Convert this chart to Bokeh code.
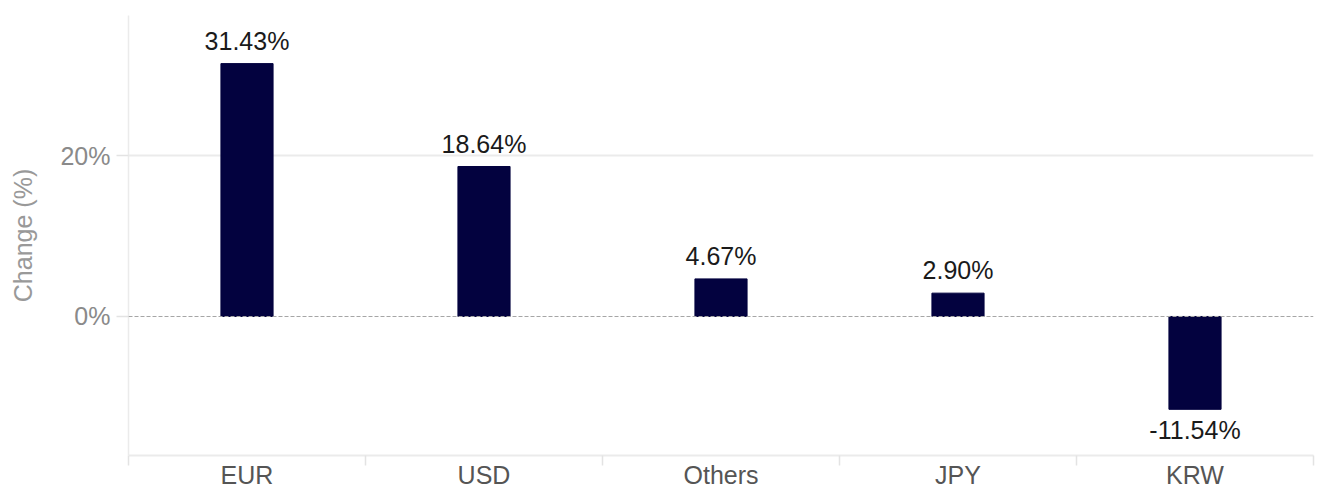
from bokeh.plotting import figure
from bokeh.models import ColumnDataSource, Range1d, FixedTicker, Span
from bokeh.embed import file_html
from bokeh.resources import INLINE
from bokeh.core.properties import value

# ---- data ----
categories = ["EUR", "USD", "Others", "JPY", "KRW"]
changes = [31.43, 18.64, 4.67, 2.90, -11.54]
labels = ["31.43%", "18.64%", "4.67%", "2.90%", "-11.54%"]
y_ticks = [0, 20]
y_tick_labels = {0: "0%", 20: "20%"}

BAR = "#03023f"
FONT = "Liberation Sans"

xpos = [i + 0.5 for i in range(len(categories))]
pos_idx = [i for i, v in enumerate(changes) if v >= 0]
neg_idx = [i for i, v in enumerate(changes) if v < 0]

src = ColumnDataSource(dict(x=xpos, top=changes, label=labels, cat=categories))
src_pos = ColumnDataSource(dict(x=[xpos[i] for i in pos_idx], y=[changes[i] for i in pos_idx],
                                label=[labels[i] for i in pos_idx]))
src_neg = ColumnDataSource(dict(x=[xpos[i] for i in neg_idx], y=[changes[i] for i in neg_idx],
                                label=[labels[i] for i in neg_idx]))

p = figure(width=1319, height=491, output_backend="svg", toolbar_location=None,
           x_range=Range1d(0, len(categories)), y_range=Range1d(-17.28, 37.41),
           min_border_left=128, min_border_right=6, min_border_top=15, min_border_bottom=33)
p.outline_line_color = None
p.background_fill_color = "white"
p.border_fill_color = "white"

p.vbar(x="x", top="top", bottom=0, width=0.22, source=src,
       fill_color=BAR, line_color=BAR)

# zero reference line
p.add_layout(Span(location=0, dimension="width", line_color="#a6a6a6",
                  line_width=1.2, line_dash="4 2"))

p.text(x="x", y="y", text="label", source=src_pos, text_align="center",
       text_baseline="alphabetic", y_offset=-23, text_font=value(FONT),
       text_font_size="25px", text_color="#1a1a1a")
p.text(x="x", y="y", text="label", source=src_neg, text_align="center",
       text_baseline="alphabetic", y_offset=21, text_font=value(FONT),
       text_font_size="25px", text_color="#1a1a1a")

# x axis
xa = p.xaxis[0]
xa.ticker = FixedTicker(ticks=xpos, minor_ticks=list(range(len(categories) + 1)))
xa.major_label_overrides = {x: c for x, c in zip(xpos, categories)}
xa.major_tick_out = 0
xa.major_tick_in = 0
xa.minor_tick_out = 10
xa.minor_tick_in = 0
xa.minor_tick_line_color = "#e3e3e3"
xa.minor_tick_line_width = 1.5
xa.axis_line_color = "#ebebeb"
xa.axis_line_width = 2
xa.major_label_standoff = -5
xa.major_label_text_font = FONT
xa.major_label_text_font_size = "25px"
xa.major_label_text_color = "#555555"

# y axis
ya = p.yaxis[0]
ya.ticker = FixedTicker(ticks=y_ticks, minor_ticks=[])
ya.major_label_overrides = y_tick_labels
ya.major_tick_out = 12
ya.major_tick_in = 0
ya.major_tick_line_color = "#e3e3e3"
ya.major_tick_line_width = 1.5
ya.minor_tick_out = 0
ya.minor_tick_in = 0
ya.axis_line_color = "#ebebeb"
ya.axis_line_width = 1.5
ya.major_label_standoff = 6
ya.major_label_text_font = FONT
ya.major_label_text_font_size = "25px"
ya.major_label_text_color = "#8a8a8a"
ya.axis_label = "Change (%)"
ya.axis_label_standoff = 20
ya.axis_label_text_font = FONT
ya.axis_label_text_font_size = "25px"
ya.axis_label_text_font_style = "normal"
ya.axis_label_text_color = "#999999"

p.xgrid.grid_line_color = None
p.ygrid.ticker = FixedTicker(ticks=[20])
p.ygrid.grid_line_color = "#ebebeb"
p.ygrid.grid_line_width = 2

open("out.html", "w").write(file_html(p, INLINE))
